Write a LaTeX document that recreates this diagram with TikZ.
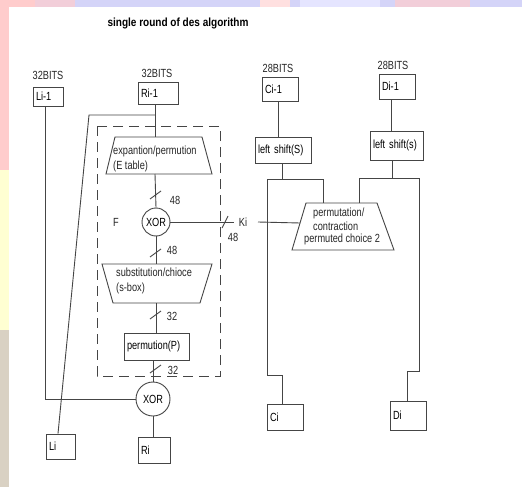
\documentclass[tikz,border=0pt]{standalone}
\usepackage{fontspec}
\setmainfont[FakeStretch=0.78]{Liberation Sans}
\newfontfamily\titlefont[FakeStretch=0.85]{Liberation Sans}
\usetikzlibrary{calc}
\definecolor{ln}{HTML}{454545}
\definecolor{bgpink}{HTML}{FFCCCC}
\definecolor{bglav}{HTML}{D4D4F8}
\definecolor{bgyel}{HTML}{FFFFD2}
\definecolor{bgbeige}{HTML}{D9D1C3}
\tikzset{
  wire/.style={draw=ln, line width=0.9pt},
  bx/.style={draw=ln, line width=0.9pt, inner xsep=3pt, inner ysep=0pt, align=left, font=\fontsize{11.8}{13}\selectfont},
  lbl/.style={inner sep=0pt, font=\fontsize{11.8}{13}\selectfont, text=black!85},
  xorc/.style={circle, draw=ln, line width=0.9pt, inner sep=0pt, font=\fontsize{11.8}{13}\selectfont},
  slashmark/.style={draw=ln, line width=0.9pt}
}
\begin{document}
\begin{tikzpicture}[x=1pt,y=-1pt]
\useasboundingbox (0,0) rectangle (522,487);
% background frame
\fill[white] (0,0) rectangle (522,487);
\fill[bglav] (0,0) rectangle (522,7);
\fill[bgpink!70!bglav] (35,0) rectangle (75,7);
\fill[bgpink!60!white] (260,0) rectangle (290,7);
\fill[blue!10!white] (300,0) rectangle (380,7);
\fill[bgpink!70!bglav] (395,0) rectangle (470,7);
\fill[bgpink] (0,0) rectangle (9,170);
\fill[bgpink] (0,0) rectangle (35,7);
\fill[bgyel] (0,170) rectangle (9,330);
\fill[bgbeige] (0,330) rectangle (9,487);

% title
\node[inner sep=0pt, font=\titlefont\bfseries\fontsize{11.8}{13}\selectfont] (title) at (178,23) {single round of des algorithm};

% top inputs
\node[lbl] (b1) at (48,75) {32BITS};
\node[bx, text width=24pt, minimum height=19pt] (li1) at (48,96.5) {Li-1};
\node[lbl] (b2) at (157,73) {32BITS};
\node[bx, text width=34pt, minimum height=22pt] (ri1) at (158,93) {Ri-1};
\node[lbl] (b3) at (278,68) {28BITS};
\node[bx, text width=30pt, minimum height=24pt] (ci1) at (280,89) {Ci-1};
\node[lbl] (b4) at (393,65) {28BITS};
\node[bx, text width=30pt, minimum height=25pt] (di1) at (397,86.5) {Di-1};

% dashed F box
\draw[ln, line width=0.9pt, dash pattern=on 10pt off 6pt] (97,126) rectangle (220,376);
\node[lbl] (F) at (116,222) {F};

% E table trapezoid
\coordinate (et) at (155,137);
\coordinate (eb) at (155,174);
\draw[wire] (115,137) -- (202,137) -- (212,174) -- (106,174) -- cycle;
\node[lbl, anchor=west, align=left, font=\fontsize{11.8}{15}\selectfont] (etxt) at (113,158.5) {expantion/permution\\(E table)};

% XOR1
\node[xorc, minimum size=28pt] (x1) at (156,222) {XOR};

% S box trapezoid
\coordinate (st) at (156,264);
\coordinate (sb) at (156,303);
\draw[wire] (102,264) -- (212,264) -- (200,303) -- (113,303) -- cycle;
\node[lbl, anchor=west, align=left, font=\fontsize{11.8}{15}\selectfont] (stxt) at (116,280.5) {substitution/chioce\\(s-box)};

% P box
\node[bx, text width=59pt, minimum height=27pt] (pp) at (156.5,346.5) {permution(P)};

% XOR2
\node[xorc, minimum size=34pt] (x2) at (153,399) {XOR};

% outputs
\node[bx, text width=23pt, minimum height=25pt] (li) at (60.5,446.5) {Li};
\node[bx, text width=26pt, minimum height=26pt] (ri) at (154,450) {Ri};

% left column wiring
\draw[wire] (ri1.south -| et) -- (et);
\coordinate (br) at (155,115);
\coordinate (brl) at (89,115);
\draw[wire] (br) -- (brl) -- (li.north -| 58,0);
\draw[wire] (li1.south -| 45,0) |- (x2.west);
\draw[wire] (eb) -- (x1.north);
\draw[wire] (x1.south) -- (st);
\draw[wire] (sb) -- (pp.north -| sb);
\draw[wire] (pp.south -| x2) -- (x2.north);
\draw[wire] (x2.south) -- (ri.north -| x2);

% slash marks with widths
\draw[slashmark] (150,199) -- (161,191);
\node[lbl] (w1) at (175,200) {48};
\draw[slashmark] (150,257) -- (161,249);
\node[lbl] (w2) at (172,250) {48};
\draw[slashmark] (150,319) -- (161,311);
\node[lbl] (w3) at (172,316) {32};
\draw[slashmark] (150,373) -- (161,365);
\node[lbl] (w4) at (173,370) {32};

% key input
\node[lbl] (ki) at (243,222) {Ki};
\draw[wire] (x1.east) -- (ki.west -| 234,0);
\draw[slashmark] (222,228) -- (228,216);
\node[lbl] (w5) at (233,237) {48};

% PC2 trapezoid
\coordinate (pcl) at (300,223);
\draw[wire] (306,203) -- (377,203) -- (394,250) -- (292,250) -- cycle;
\node[lbl, anchor=west, align=left, font=\fontsize{11.8}{14}\selectfont] (pctxt1) at (313,219) {permutation/\\contraction};
\node[lbl, anchor=west] (pctxt2) at (304,239.5) {permuted choice 2};
\draw[wire] (ki.east -| 258,0) -- (pcl);

% left shifts
\node[bx, text width=50pt, minimum height=26pt] (ls1) at (283,150) {left shift(S)};
\node[bx, text width=47pt, minimum height=29pt] (ls2) at (396.5,145.5) {left shift(s)};
\draw[wire] (ci1.south -| 278,0) -- (ls1.north -| 278,0);
\draw[wire] (di1.south -| 391,0) -- (ls2.north -| 391,0);

% outputs C, D
\node[bx, text width=30pt, minimum height=26pt] (ci) at (285,417) {Ci};
\node[bx, text width=30pt, minimum height=29pt] (di) at (408,415.5) {Di};

% right wiring
\draw[wire] (ls1.south -| 282,0) -- (282,179);
\draw[wire] (323,203) -- (323,179) -- (267,179) -- (267,375) -- (282,375) -- (ci.north -| 282,0);
\draw[wire] (ls2.south -| 392,0) -- (392,178);
\draw[wire] (359,203) -- (359,178) -- (419,178) -- (419,371) -- (407,371) -- (di.north -| 407,0);
\end{tikzpicture}
\end{document}
